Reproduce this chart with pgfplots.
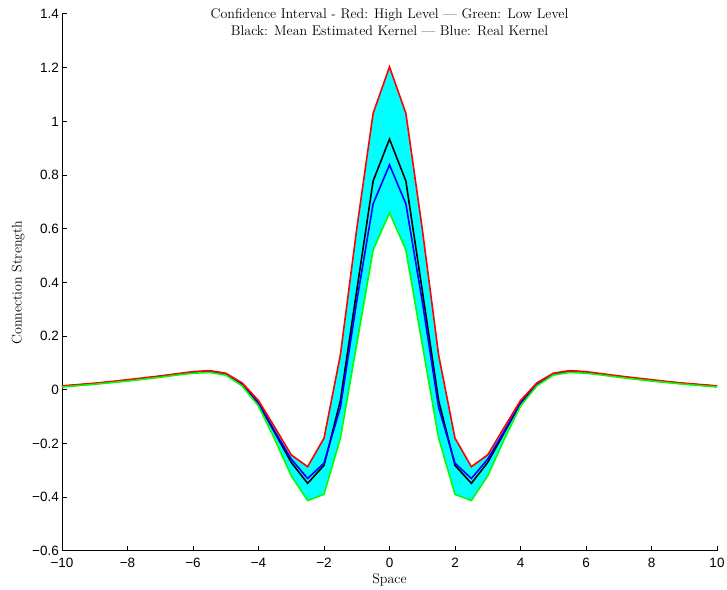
\documentclass[border=0pt]{standalone}
\usepackage{fontspec}
\usepackage{pgfplots}
\pgfplotsset{compat=1.18}
\usepgfplotslibrary{fillbetween}
\newfontfamily\tickfont{Liberation Sans}
\definecolor{mred}{rgb}{1,0,0}
\definecolor{mgreen}{rgb}{0,1,0}
\definecolor{mblue}{rgb}{0,0,1}
\definecolor{mcyan}{rgb}{0,1,1}
\begin{document}
\begin{tikzpicture}
\begin{axis}[
  at={(0,0)}, anchor=south west,
  scale only axis, width=655bp, height=537bp,
  xmin=-10, xmax=10, ymin=-0.6, ymax=1.4,
  axis x line=bottom, axis y line=left,
  axis line style={-, line width=1bp},
  tick align=inside, major tick length=5bp,
  every tick/.style={black, line width=1bp},
  xtick={-10,-8,-6,-4,-2,0,2,4,6,8,10},
  xticklabels={−10,−8,−6,−4,−2,0,2,4,6,8,10},
  ytick={-0.6,-0.4,-0.2,0,0.2,0.4,0.6,0.8,1,1.2,1.4},
  yticklabels={−0.6,−0.4,−0.2,0,0.2,0.4,0.6,0.8,1,1.2,1.4},
  ticklabel style={font=\tickfont\fontsize{13.5bp}{15bp}\selectfont},
  xticklabel style={inner sep=1bp, yshift=-6bp},
  yticklabel style={inner sep=1bp, xshift=-2bp},
  xlabel={Space}, ylabel={Connection Strength},
  label style={font=\fontsize{14bp}{16bp}\selectfont},
  xlabel style={at={(axis description cs:0.5,0)}, anchor=north, yshift=-19bp},
  ylabel style={at={(axis description cs:0,0.5)}, anchor=south, yshift=34bp},
  title={Confidence Interval - Red: High Level --- Green: Low Level\\Black: Mean Estimated Kernel --- Blue: Real Kernel},
  title style={font=\fontsize{14bp}{17bp}\selectfont, align=center, at={(axis description cs:0.5,1)}, anchor=north, yshift=2.5bp},
  clip=false,
]
\addplot[name path=high, draw=none, forget plot] coordinates {
(-10,0.015) (-9.5,0.020) (-9,0.025) (-8.5,0.031) (-8,0.038) (-7.5,0.045) (-7,0.052) (-6.5,0.060) (-6,0.068) (-5.5,0.072) (-5,0.062) (-4.5,0.026) (-4,-0.040) (-3.5,-0.140) (-3,-0.242) (-2.5,-0.286) (-2,-0.180) (-1.5,0.130) (-1,0.600) (-0.5,1.030) (0,1.203)
(0.5,1.030) (1,0.600) (1.5,0.130) (2,-0.180) (2.5,-0.286) (3,-0.242) (3.5,-0.140) (4,-0.040) (4.5,0.026) (5,0.062) (5.5,0.072) (6,0.068) (6.5,0.060) (7,0.052) (7.5,0.045) (8,0.038) (8.5,0.031) (9,0.025) (9.5,0.020) (10,0.015)};
\addplot[name path=low, draw=none, forget plot] coordinates {
(-10,0.011) (-9.5,0.016) (-9,0.021) (-8.5,0.027) (-8,0.033) (-7.5,0.040) (-7,0.047) (-6.5,0.055) (-6,0.062) (-5.5,0.065) (-5,0.055) (-4.5,0.015) (-4,-0.060) (-3.5,-0.185) (-3,-0.320) (-2.5,-0.412) (-2,-0.389) (-1.5,-0.180) (-1,0.170) (-0.5,0.521) (0,0.660)
(0.5,0.521) (1,0.170) (1.5,-0.180) (2,-0.389) (2.5,-0.412) (3,-0.320) (3.5,-0.185) (4,-0.060) (4.5,0.015) (5,0.055) (5.5,0.065) (6,0.062) (6.5,0.055) (7,0.047) (7.5,0.040) (8,0.033) (8.5,0.027) (9,0.021) (9.5,0.016) (10,0.011)};
\addplot[mcyan, draw=none] fill between[of=high and low];
\addplot[black, line width=1.6bp] coordinates {
(-10,0.013) (-9.5,0.018) (-9,0.023) (-8.5,0.029) (-8,0.035) (-7.5,0.042) (-7,0.050) (-6.5,0.058) (-6,0.065) (-5.5,0.069) (-5,0.059) (-4.5,0.021) (-4,-0.050) (-3.5,-0.160) (-3,-0.270) (-2.5,-0.348) (-2,-0.281) (-1.5,-0.040) (-1,0.370) (-0.5,0.778) (0,0.934)
(0.5,0.778) (1,0.370) (1.5,-0.040) (2,-0.281) (2.5,-0.348) (3,-0.270) (3.5,-0.160) (4,-0.050) (4.5,0.021) (5,0.059) (5.5,0.069) (6,0.065) (6.5,0.058) (7,0.050) (7.5,0.042) (8,0.035) (8.5,0.029) (9,0.023) (9.5,0.018) (10,0.013)};
\addplot[mblue, line width=1.6bp] coordinates {
(-10,0.013) (-9.5,0.018) (-9,0.023) (-8.5,0.029) (-8,0.035) (-7.5,0.042) (-7,0.050) (-6.5,0.058) (-6,0.065) (-5.5,0.069) (-5,0.059) (-4.5,0.022) (-4,-0.048) (-3.5,-0.155) (-3,-0.258) (-2.5,-0.330) (-2,-0.273) (-1.5,-0.065) (-1,0.330) (-0.5,0.693) (0,0.838)
(0.5,0.693) (1,0.330) (1.5,-0.065) (2,-0.273) (2.5,-0.330) (3,-0.258) (3.5,-0.155) (4,-0.048) (4.5,0.022) (5,0.059) (5.5,0.069) (6,0.065) (6.5,0.058) (7,0.050) (7.5,0.042) (8,0.035) (8.5,0.029) (9,0.023) (9.5,0.018) (10,0.013)};
\addplot[mred, line width=1.6bp] coordinates {
(-10,0.015) (-9.5,0.020) (-9,0.025) (-8.5,0.031) (-8,0.038) (-7.5,0.045) (-7,0.052) (-6.5,0.060) (-6,0.068) (-5.5,0.072) (-5,0.062) (-4.5,0.026) (-4,-0.040) (-3.5,-0.140) (-3,-0.242) (-2.5,-0.286) (-2,-0.180) (-1.5,0.130) (-1,0.600) (-0.5,1.030) (0,1.203)
(0.5,1.030) (1,0.600) (1.5,0.130) (2,-0.180) (2.5,-0.286) (3,-0.242) (3.5,-0.140) (4,-0.040) (4.5,0.026) (5,0.062) (5.5,0.072) (6,0.068) (6.5,0.060) (7,0.052) (7.5,0.045) (8,0.038) (8.5,0.031) (9,0.025) (9.5,0.020) (10,0.015)};
\addplot[mgreen, line width=1.6bp] coordinates {
(-10,0.011) (-9.5,0.016) (-9,0.021) (-8.5,0.027) (-8,0.033) (-7.5,0.040) (-7,0.047) (-6.5,0.055) (-6,0.062) (-5.5,0.065) (-5,0.055) (-4.5,0.015) (-4,-0.060) (-3.5,-0.185) (-3,-0.320) (-2.5,-0.412) (-2,-0.389) (-1.5,-0.180) (-1,0.170) (-0.5,0.521) (0,0.660)
(0.5,0.521) (1,0.170) (1.5,-0.180) (2,-0.389) (2.5,-0.412) (3,-0.320) (3.5,-0.185) (4,-0.060) (4.5,0.015) (5,0.055) (5.5,0.065) (6,0.062) (6.5,0.055) (7,0.047) (7.5,0.040) (8,0.033) (8.5,0.027) (9,0.021) (9.5,0.016) (10,0.011)};
\end{axis}
\path[use as bounding box] (-62bp,-38bp) rectangle (665bp,551bp);
\end{tikzpicture}
\end{document}
